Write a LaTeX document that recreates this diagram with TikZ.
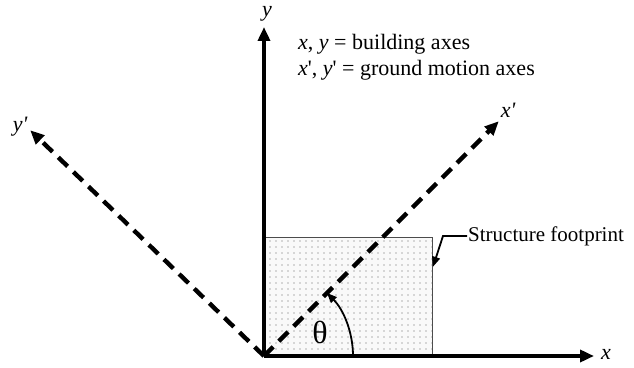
\documentclass[tikz,border=0pt]{standalone}
\usepackage{fontspec}
\setmainfont{Liberation Serif}
\usetikzlibrary{arrows.meta,patterns.meta,calc}

\begin{document}
\begin{tikzpicture}[x=1pt, y=1pt, font=\fontsize{21}{25}\selectfont, axis/.style={-{Triangle[length=14pt,width=12pt]}, line width=3.6pt}, gaxis/.style={axis, line width=4.4pt, dash pattern=on 13pt off 8pt}, thin arr/.style={line width=1.8pt, -{Triangle[length=10pt,width=8pt]}}, lbl/.style={font=\fontsize{22}{26}\selectfont\itshape}, legend/.style={anchor=base west, inner sep=0pt, font=\fontsize{22}{26}\selectfont}]
\useasboundingbox (-264,-11) rectangle (370,356);
\coordinate (o) at (0,0);
\node[draw=gray!60!black, line width=1pt, minimum width=168pt, minimum height=118pt, anchor=south west, inner sep=0pt, preaction={fill=gray!5}, pattern={Dots[distance=6pt,radius=0.7pt]}, pattern color=gray!80!black] (foot) at (o) {};
% axis tips
\coordinate (xend) at (330,0);
\coordinate (yend) at (0,329);
\coordinate (xpend) at (45:332);
\coordinate (ypend) at (136:325);
\node[lbl] (xlab) at (342,2) {x};
\node[lbl] (ylab) at (3,342) {y};
\node[lbl] (xplab) at (244,246) {x\textquotesingle};
\node[lbl] (yplab) at (-244,229) {y\textquotesingle};
\draw[gaxis] (o) -- (xpend); \draw[gaxis] (o) -- (ypend);
\draw[axis] (o) -- (xend); \draw[axis] (o) -- (yend);
% angle
\draw[thin arr, {Triangle[length=10pt,width=8pt]}-] (45:89) arc[start angle=45, end angle=0, radius=89];
\node[font=\fontsize{32}{34}\selectfont] (theta) at (56,24) {θ};
% legend
\node[legend] (leg1) at (34,306) {\textit{x}, \textit{y} = building axes};
\node[legend] (leg2) at (34,280) {\textit{x}\textquotesingle, \textit{y}\textquotesingle\ = ground motion axes};
% footprint label
\node[anchor=west, inner sep=1pt] (foottext) at (203,120) {Structure footprint};
\draw[thin arr] (foottext.west) -- ++(-24,0) -- ($(foot.north east)!0.25!(foot.south east)$);
\end{tikzpicture}
\end{document}
